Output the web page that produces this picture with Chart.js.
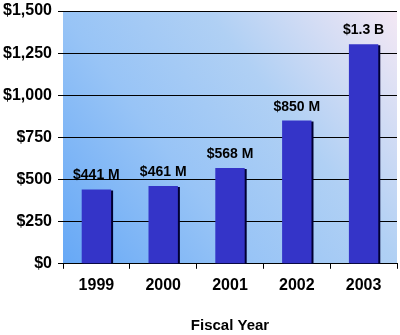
<!DOCTYPE html>
<html>
<head>
<meta charset="utf-8">
<script src="https://cdn.jsdelivr.net/npm/chart.js@4"></script>
<style>
  html, body { margin: 0; padding: 0; background: #fff; }
  #wrap { width: 400px; height: 335px; }
</style>
</head>
<body>
<div id="wrap"><canvas id="grafica" width="400" height="335"></canvas></div>
<script>
// datos del grafico
var anios = ["1999", "2000", "2001", "2002", "2003"];
var montos = [441, 461, 568, 850, 1303];
var etiquetas = ["$441 M", "$461 M", "$568 M", "$850 M", "$1.3 B"];
var ejeY = [0, 250, 500, 750, 1000, 1250, 1500];

// fondo degradado del area del grafico
var fondoPlugin = {
    id: "fondo",
    beforeDraw: function (chart) {
        var a = chart.chartArea;
        var ctx = chart.ctx;
        var g = ctx.createLinearGradient(a.left, a.bottom, a.right, a.top);
        g.addColorStop(0, "#66a8f6");
        g.addColorStop(0.36, "#98c4f6");
        g.addColorStop(0.64, "#b0d0f4");
        g.addColorStop(1, "#f4e8f4");
        ctx.save();
        ctx.fillStyle = g;
        ctx.fillRect(a.left, a.top, a.right - a.left, a.bottom - a.top);
        ctx.restore();
    }
};

// sombra oscura de las barras
var sombraPlugin = {
    id: "sombra",
    beforeDatasetDraw: function (chart) {
        var ctx = chart.ctx;
        ctx.save();
        ctx.shadowColor = "#000033";
        ctx.shadowOffsetX = 2;
        ctx.shadowOffsetY = 1;
        ctx.shadowBlur = 0;
    },
    afterDatasetDraw: function (chart) {
        chart.ctx.restore();
    }
};

// textos encima de cada barra
var textoPlugin = {
    id: "textos",
    afterDatasetsDraw: function (chart) {
        var ctx = chart.ctx;
        var meta = chart.getDatasetMeta(0);
        ctx.save();
        ctx.font = "bold 14px 'Liberation Sans', Arial, sans-serif";
        ctx.fillStyle = "#000";
        ctx.textAlign = "center";
        ctx.textBaseline = "alphabetic";
        meta.data.forEach(function (barra, i) {
            ctx.fillText(etiquetas[i], barra.x, barra.y - 10);
        });
        ctx.restore();
    }
};

var fuente = "'Liberation Sans', Arial, sans-serif";
var ctx = document.getElementById("grafica").getContext("2d");
var miGrafico = new Chart(ctx, {
    type: "bar",
    data: {
        labels: anios,
        datasets: [{
            data: montos,
            backgroundColor: "#3434c8",
            borderWidth: 0,
            categoryPercentage: 1,
            barPercentage: 0.44
        }]
    },
    options: {
        responsive: false,
        animation: false,
        layout: { padding: { top: 11, right: 3, left: 3, bottom: 0 } },
        plugins: { legend: { display: false }, tooltip: { enabled: false } },
        scales: {
            x: {
                grid: { drawOnChartArea: false, drawTicks: true, tickLength: 5, color: "#000", offset: true },
                border: { display: true, color: "#000", width: 1 },
                ticks: {
                    color: "#000",
                    padding: 7,
                    font: { family: fuente, size: 16, weight: "bold" }
                },
                title: {
                    display: true,
                    text: "Fiscal Year",
                    color: "#000",
                    padding: { top: 15, bottom: 0 },
                    font: { family: fuente, size: 15, weight: "bold" }
                }
            },
            y: {
                min: ejeY[0],
                max: ejeY[ejeY.length - 1],
                afterBuildTicks: function (eje) {
                    eje.ticks = ejeY.map(function (v) { return { value: v }; });
                },
                afterFit: function (eje) {
                    eje.width = 60;
                    eje.paddingTop = 0;
                    eje.paddingBottom = 0;
                },
                grid: { color: "#000", lineWidth: 1, tickLength: 5 },
                border: { display: false },
                ticks: {
                    color: "#000",
                    padding: 6,
                    font: { family: fuente, size: 16, weight: "bold" },
                    callback: function (v) { return "$" + v.toLocaleString("en-US"); }
                }
            }
        }
    },
    plugins: [fondoPlugin, sombraPlugin, textoPlugin]
});
</script>
</body>
</html>
